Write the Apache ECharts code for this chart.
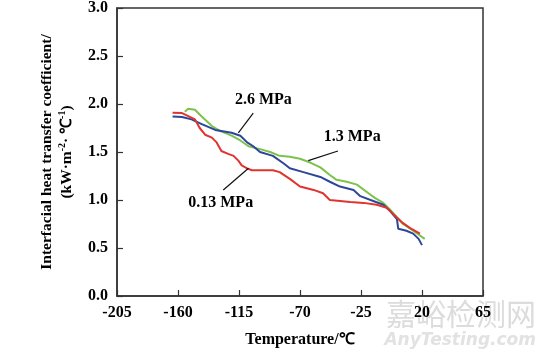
<!DOCTYPE html>
<html>
<head>
<meta charset="utf-8">
<script src="https://cdn.jsdelivr.net/npm/echarts@6/dist/echarts.min.js"></script>
<style>
  html, body { margin: 0; padding: 0; background: #fff; }
  #main { width: 550px; height: 353px; }
</style>
</head>
<body>
<div id="main"></div>
<script>
// temperature (℃) / heat transfer coefficient (kW·m-2·℃-1)
const redT = [-164, -157, -147.5, -144, -140, -135, -131.5, -128, -123, -119, -115.5, -113, -109, -105.5, -96, -90, -85, -77.5, -70, -60, -53, -48, -40.5, -33, -23, -13.5, -6, -1, 5, 11, 18.5];
const redV = [1.91, 1.905, 1.84, 1.75, 1.68, 1.65, 1.60, 1.51, 1.48, 1.46, 1.41, 1.36, 1.33, 1.31, 1.31, 1.31, 1.29, 1.22, 1.14, 1.105, 1.07, 1.00, 0.99, 0.98, 0.97, 0.95, 0.92, 0.85, 0.77, 0.71, 0.65];

const blueT = [-164, -157, -150, -142.5, -132.5, -120.5, -114, -109, -104.5, -99.5, -90, -82, -77.5, -67.5, -55, -48, -40.5, -30.5, -25.5, -16, -8.5, -3.5, 1.5, 2.5, 8.5, 13.5, 17.5, 20];
const blueV = [1.87, 1.865, 1.84, 1.79, 1.73, 1.70, 1.67, 1.60, 1.56, 1.50, 1.46, 1.38, 1.33, 1.29, 1.24, 1.19, 1.14, 1.105, 1.04, 0.99, 0.95, 0.885, 0.80, 0.70, 0.68, 0.65, 0.595, 0.53];

const greenT = [-155, -152.5, -147.5, -142.5, -135, -129, -120.5, -114, -108, -99.5, -92, -85, -77.5, -70, -62.5, -55, -48, -43, -35.5, -28, -19.5, -14.5, -8.5, -3.5, 1.5, 6, 13.5, 22];
const greenV = [1.92, 1.95, 1.94, 1.87, 1.77, 1.72, 1.67, 1.62, 1.56, 1.53, 1.50, 1.46, 1.45, 1.43, 1.39, 1.34, 1.26, 1.21, 1.19, 1.16, 1.07, 1.02, 0.97, 0.90, 0.82, 0.75, 0.68, 0.595];

const xTicks = [-205, -160, -115, -70, -25, 20, 65];

// pressure labels: [text, label x, label y, pointer start x, y, pointer end x, y]
const notes = [
    ['2.6 MPa', -97, 2.04, -115.5, 1.70, -104.5, 1.905],
    ['1.3 MPa', -31.5, 1.66, -63.9, 1.41, -42, 1.51],
    ['0.13 MPa', -128.5, 0.97, -126.6, 1.105, -108, 1.33]
];

const font = 'Liberation Serif, Times New Roman, serif';

function pairs(xs, ys) {
    return xs.map(function (x, i) { return [x, ys[i]]; });
}

const chart = echarts.init(document.getElementById('main'));

const option = {
    animation: false,
    grid: {
        left: 117, right: 67, top: 6, bottom: 53,
        show: true, borderColor: '#333', borderWidth: 1.5
    },
    xAxis: {
        type: 'value',
        min: -205, max: 65,
        name: 'Temperature/℃',
        nameLocation: 'middle',
        nameGap: 36,
        nameTextStyle: {fontFamily: font, fontSize: 16, color: '#000', fontWeight: 'bold'},
        axisLine: {onZero: false, lineStyle: {color: '#333', width: 1.5}},
        axisTick: {inside: true, length: 6, lineStyle: {color: '#333', width: 1.2}, customValues: xTicks},
        axisLabel: {fontFamily: font, fontSize: 16, color: '#000', fontWeight: 'bold', margin: 9, customValues: xTicks},
        splitLine: {show: false}
    },
    yAxis: {
        type: 'value',
        min: 0, max: 3, interval: 0.5,
        name: '{a|Interfacial heat transfer coefficient/}\n{a|(kW·m}{s|-2}{a|· ℃}{s|-1}{a|)}',
        nameLocation: 'middle',
        nameGap: 40,
        nameRotate: 90,
        nameTextStyle: {
            rich: {
                a: {fontFamily: font, fontSize: 15.5, color: '#000', fontWeight: 'bold', lineHeight: 20},
                s: {fontFamily: font, fontSize: 10, color: '#000', fontWeight: 'bold', lineHeight: 20, verticalAlign: 'top'}
            }
        },
        axisLine: {show: true, onZero: false, lineStyle: {color: '#333', width: 1.5}},
        axisTick: {show: true, inside: true, length: 6, lineStyle: {color: '#333', width: 1.2}},
        axisLabel: {
            fontFamily: font, fontSize: 16, color: '#000', fontWeight: 'bold', margin: 9,
            formatter: function (v) { return v.toFixed(1); }
        },
        splitLine: {show: false}
    },
    series: [
        {
            name: '0.13 MPa', type: 'line', data: pairs(redT, redV),
            showSymbol: false, lineStyle: {color: '#e0342e', width: 2}, z: 3
        },
        {
            name: '2.6 MPa', type: 'line', data: pairs(blueT, blueV),
            showSymbol: false, lineStyle: {color: '#2c4699', width: 2}, z: 2
        },
        {
            name: '1.3 MPa', type: 'line', data: pairs(greenT, greenV),
            showSymbol: false, lineStyle: {color: '#7dc24c', width: 2}, z: 1
        },
        {
            // pointers and their texts
            type: 'scatter',
            symbolSize: 0,
            itemStyle: {opacity: 1},
            data: notes.map(function (n) { return {value: [n[1], n[2]], name: n[0]}; }),
            label: {
                show: true, position: 'inside', formatter: '{b}',
                fontFamily: font, fontSize: 16, color: '#000', fontWeight: 'bold'
            },
            emphasis: {disabled: true},
            markLine: {
                silent: true, symbol: 'none',
                lineStyle: {color: '#111', width: 1.2, type: 'solid'},
                label: {show: false},
                data: notes.map(function (n) { return [{coord: [n[3], n[4]]}, {coord: [n[5], n[6]]}]; })
            }
        }
    ],
    graphic: [
        {
            type: 'text', right: 14, bottom: 24,
            style: {text: '嘉峪检测网', font: '30px "Noto Sans CJK SC"', fill: '#dcdcdc'}
        },
        {
            type: 'text', right: 14, bottom: 4,
            style: {text: 'AnyTesting.com', font: 'italic bold 17px "DejaVu Sans"', fill: '#e2e2e2'}
        }
    ]
};

chart.setOption(option);
</script>
</body>
</html>
